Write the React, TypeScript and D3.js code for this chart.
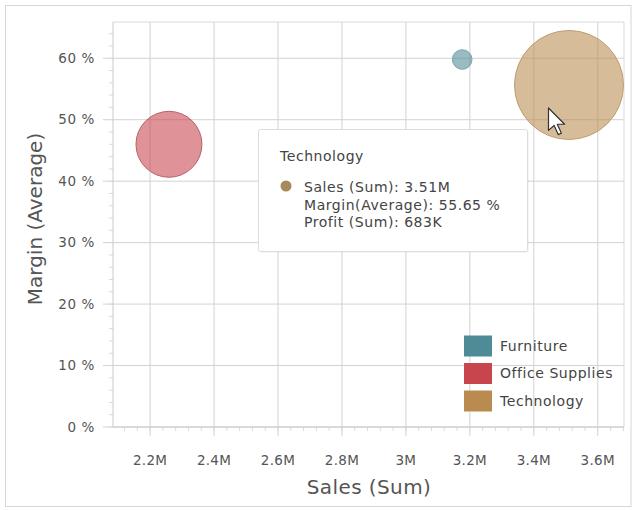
import React from "react";
import * as d3 from "d3";

const categories = ["Furniture", "Office Supplies", "Technology"];
const sales = [3.176, 2.259, 3.51]; // millions
const margin = [59.8, 46.0, 55.65]; // percent
const profit = [22, 250, 683]; // thousands
const legendColors = ["#4f8b96", "#c8454d", "#b98b50"];
const bubbleStroke = ["#7fa3ab", "#b8606a", "#bf9d70"];
const xTicks = [2.2, 2.4, 2.6, 2.8, 3.0, 3.2, 3.4, 3.6];
const yTicks = [0, 10, 20, 30, 40, 50, 60];

const W = 636;
const H = 510;
const plot = { left: 113, top: 22, right: 624, bottom: 427 };
const FONT = "DejaVu Sans, sans-serif";

export default function App() {
  const x = d3.scaleLinear().domain([2.084, 3.682]).range([plot.left, plot.right]);
  const y = d3.scaleLinear().domain([0, 65.9]).range([plot.bottom, plot.top]);
  const r = d3.scaleSqrt().domain([0, 683]).range([0, 54.5]);

  const xMinor: number[] = [];
  for (let v = 2.08; v < 3.69; v += 0.04) {
    const vv = Math.round(v * 100) / 100;
    if (vv >= 2.084 && vv <= 3.682) xMinor.push(vv);
  }
  const yMinor: number[] = [];
  for (let v = 0; v <= 65; v += 2) yMinor.push(v);

  const fmtX = (v: number) => `${+v.toFixed(1)}M`;
  const fmtY = (v: number) => `${v} %`;

  const tipIdx = 2;
  const tip = { x: 258.5, y: 129.5, w: 269, h: 122 };

  const arrow = [
    [0, 0], [0, 16], [4, 12.5], [7, 19], [9.2, 18], [6.3, 11.6], [11.5, 11.6],
  ];
  const cursorPath =
    "M" + arrow.map(([a, b]) => `${548.5 + a * 1.4},${108 + b * 1.4}`).join("L") + "Z";

  const order = [1, 2, 0];
  const txt = { fontSize: 14, letterSpacing: 0.55, fill: "#444" };

  return (
    <svg
      width={W}
      height={H}
      style={{ position: "absolute", left: 0, top: 0, background: "#fff" }}
      fontFamily={FONT}
    >
      <rect x={5.5} y={5.5} width={625.5} height={501} fill="#fff" stroke="#d6d6d6" />

      {/* grid */}
      {yTicks.map((t) => (
        <line key={"gy" + t} x1={plot.left - 10} x2={plot.right} y1={y(t)} y2={y(t)} stroke="#d2d2d2" />
      ))}
      {xTicks.map((t) => (
        <line key={"gx" + t} x1={x(t)} x2={x(t)} y1={plot.top} y2={plot.bottom + 9} stroke="#d2d2d2" />
      ))}
      <line x1={plot.left} x2={plot.right} y1={plot.top} y2={plot.top} stroke="#dadada" />
      <line x1={plot.right} x2={plot.right} y1={plot.top} y2={plot.bottom} stroke="#dadada" />
      {/* minor ticks */}
      {yMinor.map((t) => (
        <line key={"my" + t} x1={plot.left - 4} x2={plot.left} y1={y(t)} y2={y(t)} stroke="#dadada" />
      ))}
      {xMinor.map((t) => (
        <line key={"mx" + t} x1={x(t)} x2={x(t)} y1={plot.bottom} y2={plot.bottom + 4} stroke="#dadada" />
      ))}
      {/* axes */}
      <line x1={plot.left} x2={plot.left} y1={plot.top} y2={plot.bottom} stroke="#cacaca" />
      <line x1={plot.left} x2={plot.right} y1={plot.bottom} y2={plot.bottom} stroke="#cacaca" />

      {/* tick labels */}
      {yTicks.map((t) => (
        <text key={"ly" + t} x={95} y={y(t)} dy="0.35em" textAnchor="end" fontSize={13.5} letterSpacing={0.6} fill="#555">
          {fmtY(t)}
        </text>
      ))}
      {xTicks.map((t) => (
        <text key={"lx" + t} x={x(t)} y={465} textAnchor="middle" fontSize={13.5} letterSpacing={0.3} fill="#555">
          {fmtX(t)}
        </text>
      ))}

      {/* axis titles */}
      <text x={369} y={494} textAnchor="middle" fontSize={20} letterSpacing={0.4} fill="#555">
        Sales (Sum)
      </text>
      <text
        transform={`translate(42,219) rotate(-90)`}
        textAnchor="middle"
        fontSize={20}
        fill="#555"
      >
        Margin (Average)
      </text>

      {/* bubbles */}
      {order.map((i) => (
        <g key={"b" + i}>
          <circle
            cx={x(sales[i])}
            cy={y(margin[i])}
            r={r(profit[i])}
            fill={legendColors[i]}
            fillOpacity={0.58}
            stroke={bubbleStroke[i]}
            strokeWidth={1}
          />
        </g>
      ))}

      {/* legend */}
      {categories.map((c, i) => (
        <g key={"lg" + c} transform={`translate(464,${335.5 + i * 27.5})`}>
          <rect width={28} height={21} fill={legendColors[i]} />
          <text x={36} y={10.5} dy="0.35em" {...txt}>
            {c}
          </text>
        </g>
      ))}

      {/* tooltip */}
      <rect x={tip.x + 1.5} y={tip.y + 1.5} width={tip.w} height={tip.h} fill="#000" opacity={0.04} rx={2} />
      <rect x={tip.x} y={tip.y} width={tip.w} height={tip.h} fill="#fff" stroke="#dcdcdc" rx={2} />
      <text x={280} y={161} {...txt}>
        {categories[tipIdx]}
      </text>
      <circle cx={286} cy={186} r={5.5} fill="#a8895a" />
      <text x={304} y={192} {...txt}>
        {`Sales (Sum): ${sales[tipIdx].toFixed(2)}M`}
      </text>
      <text x={304} y={209.5} {...txt}>
        {`Margin(Average): ${margin[tipIdx].toFixed(2)} %`}
      </text>
      <text x={304} y={227} {...txt}>
        {`Profit (Sum): ${profit[tipIdx]}K`}
      </text>

      {/* mouse cursor */}
      <path d={cursorPath} fill="#fff" stroke="#333" strokeWidth={1.2} strokeLinejoin="round" />
    </svg>
  );
}
